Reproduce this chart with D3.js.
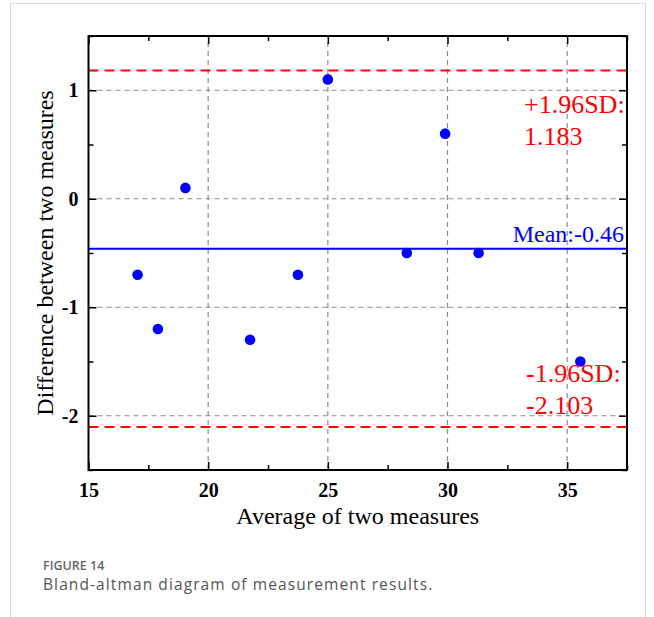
<!DOCTYPE html>
<html>
<head>
<meta charset="utf-8">
<script src="https://cdn.jsdelivr.net/npm/d3@7"></script>
<style>
    html, body { margin: 0; padding: 0; background: #fff; }
</style>
</head>
<body>
<script>
const width = 654, height = 617;

// Bland-Altman points (average, difference)
const avgValues = [17.05, 17.9, 19.05, 21.75, 23.75, 25.0, 28.3, 29.9, 31.3, 35.55];
const diffValues = [-0.7, -1.2, 0.1, -1.3, -0.7, 1.1, -0.5, 0.6, -0.5, -1.5];

const meanDiff = -0.46;
const upperLimit = 1.183;
const lowerLimit = -2.103;

const xTicks = [15, 20, 25, 30, 35];
const xMinorTicks = [17.5, 22.5, 27.5, 32.5, 37.5];
const yTicks = [-2, -1, 0, 1];
const yMinorTicks = [-2.5, -1.5, -0.5, 0.5, 1.5];

const margin = { top: 36, right: 27, bottom: 147, left: 88.5 };

const svg = d3.select("body")
    .append("svg")
    .attr("width", width)
    .attr("height", height);

// card outline
svg.append("rect")
    .attr("x", 10.5)
    .attr("y", 3.5)
    .attr("width", 635)
    .attr("height", 640)
    .attr("fill", "none")
    .attr("stroke", "#d9d9d9")
    .attr("stroke-width", 1);

const x = d3.scaleLinear()
    .domain([15, 37.5])
    .range([margin.left, width - margin.right]);

const y = d3.scaleLinear()
    .domain([-2.5, 1.5])
    .range([height - margin.bottom, margin.top]);

const plot = svg.append("g");

// grid
plot.selectAll(".vgrid")
    .data(xTicks.filter(d => d > 15))
    .enter()
    .append("line")
    .attr("class", "vgrid")
    .attr("x1", d => x(d)).attr("x2", d => x(d))
    .attr("y1", y.range()[0]).attr("y2", y.range()[1])
    .attr("stroke", "#8c8c8c")
    .attr("stroke-width", 1.2)
    .attr("stroke-dasharray", "5,4");

plot.selectAll(".hgrid")
    .data(yTicks)
    .enter()
    .append("line")
    .attr("class", "hgrid")
    .attr("x1", x.range()[0]).attr("x2", x.range()[1])
    .attr("y1", d => y(d)).attr("y2", d => y(d))
    .attr("stroke", "#8c8c8c")
    .attr("stroke-width", 1.2)
    .attr("stroke-dasharray", "5,4");

// limits of agreement
plot.selectAll(".limit")
    .data([upperLimit, lowerLimit])
    .enter()
    .append("line")
    .attr("class", "limit")
    .attr("x1", x.range()[0]).attr("x2", x.range()[1])
    .attr("y1", d => y(d)).attr("y2", d => y(d))
    .attr("stroke", "#ff0000")
    .attr("stroke-width", 2)
    .attr("stroke-dasharray", "10,6");

plot.append("line")
    .attr("x1", x.range()[0]).attr("x2", x.range()[1])
    .attr("y1", y(meanDiff)).attr("y2", y(meanDiff))
    .attr("stroke", "#0000ff")
    .attr("stroke-width", 2);

// points
plot.selectAll(".dot")
    .data(avgValues.map((a, i) => ({ a: a, d: diffValues[i] })))
    .enter()
    .append("circle")
    .attr("class", "dot")
    .attr("cx", d => x(d.a))
    .attr("cy", d => y(d.d))
    .attr("r", 5.3)
    .attr("fill", "#0000ff");

// axes, ticks point inward on all four sides
const serif = "'Liberation Serif', 'Times New Roman', serif";

function styleAxis(g) {
    g.select(".domain").remove();
    g.selectAll(".tick line").attr("stroke", "#000").attr("stroke-width", 1.5);
    g.selectAll(".tick text")
        .attr("font-family", serif)
        .attr("font-weight", "bold")
        .attr("font-size", "20px")
        .attr("fill", "#000");
}

const plain = d => String(d); // keep the ascii hyphen like the original

const bottom = height - margin.bottom;
const right = width - margin.right;

svg.append("g")
    .attr("transform", `translate(0,${bottom})`)
    .call(d3.axisBottom(x).tickValues(xTicks).tickSize(-8).tickPadding(13).tickFormat(plain))
    .call(styleAxis);
svg.append("g")
    .attr("transform", `translate(0,${bottom})`)
    .call(d3.axisBottom(x).tickValues(xMinorTicks).tickSize(-5).tickFormat(""))
    .call(styleAxis);
svg.append("g")
    .attr("transform", `translate(0,${margin.top})`)
    .call(d3.axisTop(x).tickValues(xTicks).tickSize(-8).tickFormat(""))
    .call(styleAxis);
svg.append("g")
    .attr("transform", `translate(0,${margin.top})`)
    .call(d3.axisTop(x).tickValues(xMinorTicks).tickSize(-5).tickFormat(""))
    .call(styleAxis);

svg.append("g")
    .attr("transform", `translate(${margin.left},0)`)
    .call(d3.axisLeft(y).tickValues(yTicks).tickSize(-8).tickPadding(10).tickFormat(plain))
    .call(styleAxis);
svg.append("g")
    .attr("transform", `translate(${margin.left},0)`)
    .call(d3.axisLeft(y).tickValues(yMinorTicks).tickSize(-5).tickFormat(""))
    .call(styleAxis);
svg.append("g")
    .attr("transform", `translate(${right},0)`)
    .call(d3.axisRight(y).tickValues(yTicks).tickSize(-8).tickFormat(""))
    .call(styleAxis);
svg.append("g")
    .attr("transform", `translate(${right},0)`)
    .call(d3.axisRight(y).tickValues(yMinorTicks).tickSize(-5).tickFormat(""))
    .call(styleAxis);

// frame
svg.append("rect")
    .attr("x", margin.left)
    .attr("y", margin.top)
    .attr("width", right - margin.left)
    .attr("height", bottom - margin.top)
    .attr("fill", "none")
    .attr("stroke", "#000")
    .attr("stroke-width", 2);

// axis titles
svg.append("text")
    .attr("x", (margin.left + right) / 2)
    .attr("y", 524)
    .attr("text-anchor", "middle")
    .attr("font-family", serif)
    .attr("font-size", "24px")
    .text("Average of two measures");

svg.append("text")
    .attr("transform", `translate(53,${(margin.top + bottom) / 2}) rotate(-90)`)
    .attr("text-anchor", "middle")
    .attr("font-family", serif)
    .attr("font-size", "24px")
    .text("Difference between two measures");

// annotations
svg.append("text")
    .attr("x", right - 3)
    .attr("y", y(meanDiff) - 7)
    .attr("text-anchor", "end")
    .attr("font-family", serif)
    .attr("font-size", "24px")
    .attr("fill", "#0000ff")
    .text("Mean:" + meanDiff);

const sdLabels = [
    { lines: ["+1.96SD:", upperLimit.toFixed(3)], y0: 113, x0: 524 },
    { lines: ["-1.96SD:", lowerLimit.toFixed(3)], y0: 382, x0: 526 }
];

sdLabels.forEach(s => {
    const t = svg.append("text")
        .attr("font-family", serif)
        .attr("font-size", "26px")
        .attr("fill", "#ff0000");
    t.selectAll("tspan")
        .data(s.lines)
        .enter()
        .append("tspan")
        .attr("x", s.x0)
        .attr("y", (d, i) => s.y0 + i * 32)
        .text(d => d);
});

// caption
svg.append("text")
    .attr("x", 43)
    .attr("y", 570)
    .attr("font-family", "'Open Sans', sans-serif")
    .attr("font-size", "12.5px")
    .attr("font-weight", "600")
    .attr("fill", "#666")
    .text("FIGURE 14");

svg.append("text")
    .attr("x", 43)
    .attr("y", 590)
    .attr("font-family", "'Open Sans', sans-serif")
    .attr("font-size", "15.5px")
    .attr("letter-spacing", "1.1px")
    .attr("fill", "#555")
    .text("Bland-altman diagram of measurement results.");
</script>
</body>
</html>
